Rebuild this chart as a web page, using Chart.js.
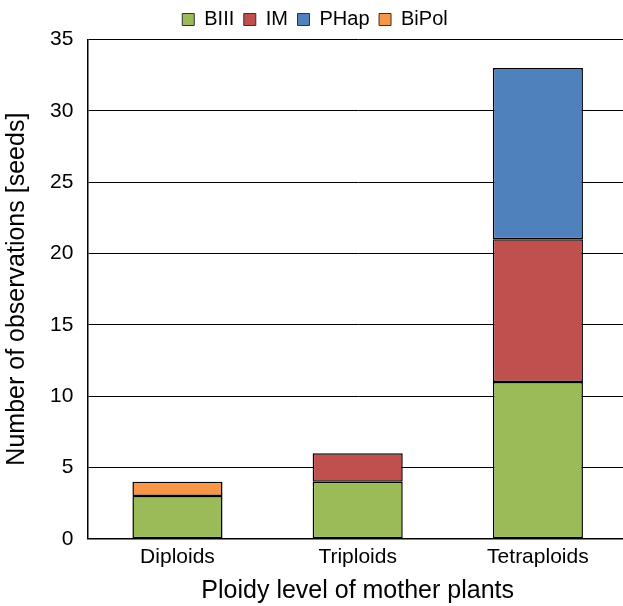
<!DOCTYPE html>
<html>
<head>
<meta charset="utf-8">
<script src="https://cdn.jsdelivr.net/npm/chart.js@4"></script>
<style>
  html, body { margin: 0; padding: 0; background: #fff; overflow: hidden; }
  #wrap { width: 628px; height: 606px; }
</style>
</head>
<body>
<div id="wrap"><canvas id="chart"></canvas></div>
<script>
const categories = ['Diploids', 'Triploids', 'Tetraploids'];
const seriesNames = ['BIII', 'IM', 'PHap', 'BiPol'];
const biii = [3, 4, 11];
const im = [null, 2, 10];
const phap = [null, null, 12];
const bipol = [1, null, null];
const colors = ['#9BBB59', '#C0504D', '#4F81BD', '#F79646'];
const yTicks = [0, 5, 10, 15, 20, 25, 30, 35];

const font = "'Liberation Sans', Arial, sans-serif";

const values = [biii, im, phap, bipol];
const datasets = seriesNames.map((name, i) => ({
    label: name,
    data: values[i],
    backgroundColor: colors[i],
    borderColor: '#000',
    borderWidth: 1.5,
    borderSkipped: false,
    categoryPercentage: 1,
    barPercentage: 0.5
}));

new Chart(document.getElementById('chart'), {
    type: 'bar',
    data: { labels: categories, datasets: datasets },
    options: {
        responsive: true,
        maintainAspectRatio: false,
        animation: false,
        layout: { padding: { top: 0, right: 0, left: 2, bottom: 0 } },
        plugins: {
            legend: {
                position: 'top',
                labels: {
                    font: { family: font, size: 20 },
                    color: '#000',
                    boxWidth: 12,
                    boxHeight: 12,
                    padding: 9.5,
                    generateLabels: chart => seriesNames.map((name, i) => ({
                        text: name,
                        fillStyle: colors[i],
                        strokeStyle: '#333',
                        lineWidth: 1,
                        datasetIndex: i
                    }))
                }
            },
            tooltip: { enabled: false }
        },
        scales: {
            x: {
                stacked: true,
                grid: { display: false, drawTicks: false },
                border: { color: '#000', width: 1.5 },
                ticks: { font: { family: font, size: 21 }, color: '#000', padding: 6 },
                title: {
                    display: true,
                    text: 'Ploidy level of mother plants',
                    font: { family: font, size: 25 },
                    color: '#000',
                    padding: { top: 0, bottom: 0 }
                }
            },
            y: {
                stacked: true,
                min: 0,
                max: 35,
                afterBuildTicks: axis => { axis.ticks = yTicks.map(v => ({ value: v })); },
                grid: { color: '#000', lineWidth: 1, drawTicks: false },
                border: { color: '#000', width: 1.5 },
                ticks: { font: { family: font, size: 21 }, color: '#000', padding: 14 },
                title: {
                    display: true,
                    text: 'Number of observations [seeds]',
                    font: { family: font, size: 25 },
                    color: '#000',
                    padding: { top: 0, bottom: 4 }
                }
            }
        }
    }
});
</script>
</body>
</html>
